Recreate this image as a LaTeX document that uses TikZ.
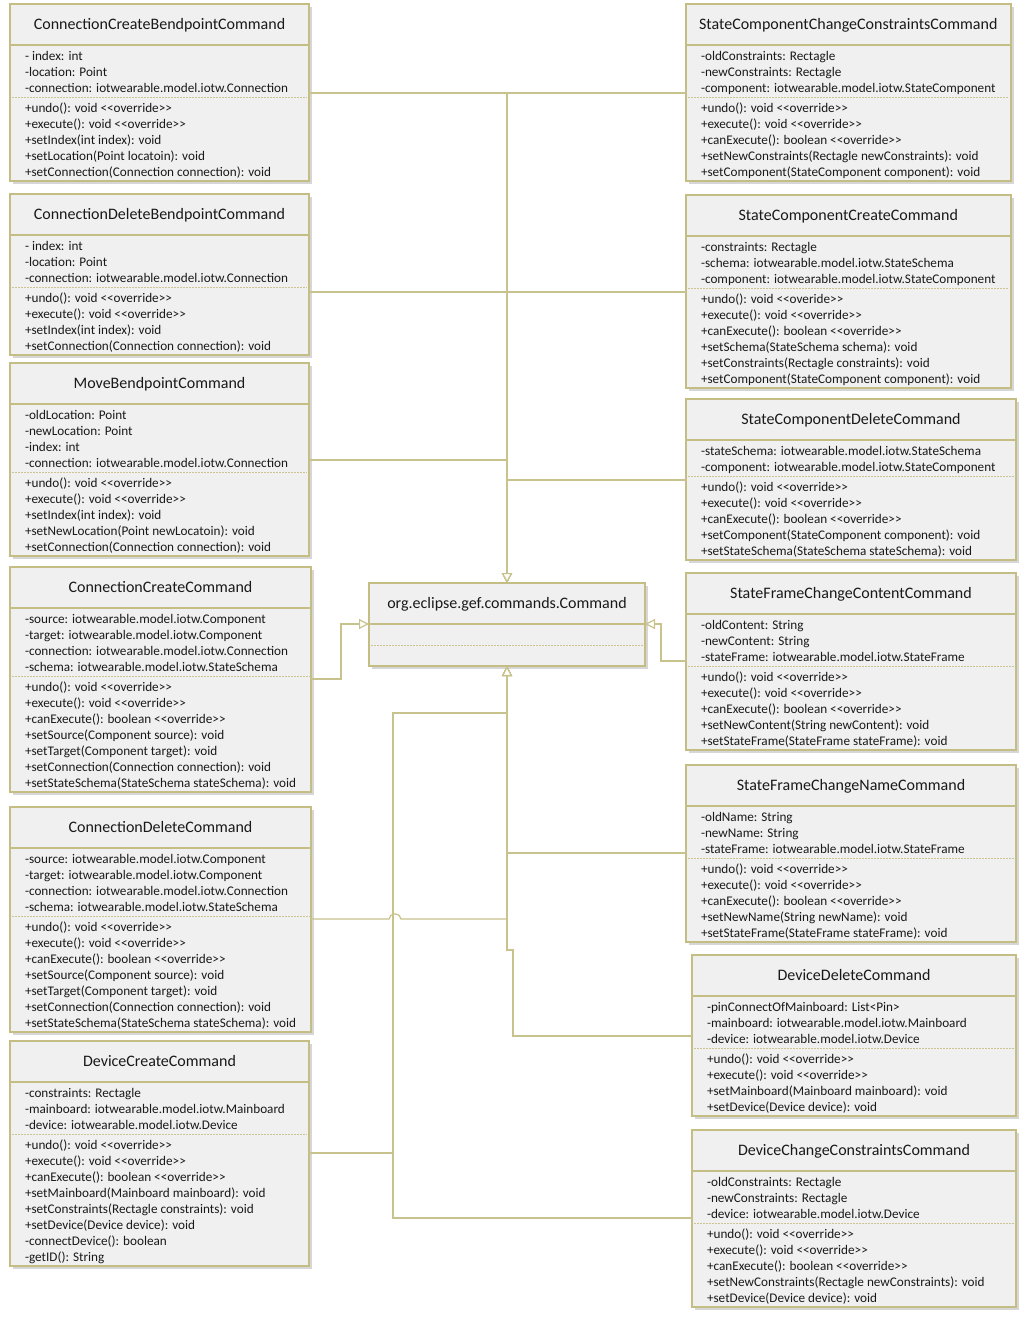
\documentclass[tikz,border=0pt]{standalone}
\usepackage{fontspec}
\setmainfont{Carlito}
\usetikzlibrary{shapes.multipart,arrows.meta,shadows,positioning}

\definecolor{umlline}{RGB}{196,190,132}
\definecolor{umlfill}{RGB}{240,240,240}
\definecolor{umldash}{RGB}{204,197,146}
\definecolor{umlarrow}{RGB}{200,195,140}
\newcommand{\lsa}{\rule{0pt}{13.5pt}}
\newcommand{\lsb}{\rule[-3.5pt]{0pt}{3.5pt}}
\newcommand{\clsname}[1]{\makebox[0pt]{\fontsize{16}{19}\selectfont\rule[-14pt]{0pt}{38pt}#1}}
\newcommand{\stereo}[1]{<\kern0pt<#1>\kern0pt>}

\begin{document}
\begin{tikzpicture}[x=1pt,y=-1pt,
  class/.style={rectangle split,rectangle split parts=3,rectangle split draw splits=false,
    rectangle split part align={center,left,left},anchor=north west,align=left,
    draw=umlline,line width=2pt,fill=umlfill,inner xsep=15pt,inner ysep=0.5pt,outer sep=0pt,
    text=black!90,font=\fontsize{13.2}{16}\selectfont,
    drop shadow={shadow xshift=3pt,shadow yshift=-3pt,fill=black!45,opacity=.35}},
  titlesep/.style={draw=umlline,line width=1.5pt},
  dashsep/.style={draw=umldash,line width=1pt,dash pattern=on 2pt off 1pt},
  gen/.style={draw=umlarrow,line width=1.2pt,-{Triangle[length=10pt,width=10pt,fill=white]}}]
  \path[fill=white,use as bounding box] (0,0) rectangle (1025,1323);

  % left column
  \node[class,minimum width=299pt] (ccb) at (10,4) {\clsname{ConnectionCreateBendpointCommand}
    \nodepart{two}\lsa- index: int\\-location: Point\\-connection: iotwearable.model.iotw.Connection\lsb
    \nodepart{three}\lsa+undo(): void \stereo{override}\\+execute(): void \stereo{override}\\+setIndex(int index): void\\+setLocation(Point locatoin): void\\+setConnection(Connection connection): void\lsb};
  \node[class,minimum width=299pt] (cdb) at (10,194) {\clsname{ConnectionDeleteBendpointCommand}
    \nodepart{two}\lsa- index: int\\-location: Point\\-connection: iotwearable.model.iotw.Connection\lsb
    \nodepart{three}\lsa+undo(): void \stereo{override}\\+execute(): void \stereo{override}\\+setIndex(int index): void\\+setConnection(Connection connection): void\lsb};
  \node[class,minimum width=299pt] (mbp) at (10,363) {\clsname{MoveBendpointCommand}
    \nodepart{two}\lsa-oldLocation: Point\\-newLocation: Point\\-index: int\\-connection: iotwearable.model.iotw.Connection\lsb
    \nodepart{three}\lsa+undo(): void \stereo{override}\\+execute(): void \stereo{override}\\+setIndex(int index): void\\+setNewLocation(Point newLocatoin): void\\+setConnection(Connection connection): void\lsb};
  \node[class,minimum width=299pt] (ccc) at (10,567) {\clsname{ConnectionCreateCommand}
    \nodepart{two}\lsa-source: iotwearable.model.iotw.Component\\-target: iotwearable.model.iotw.Component\\-connection: iotwearable.model.iotw.Connection\\-schema: iotwearable.model.iotw.StateSchema\lsb
    \nodepart{three}\lsa+undo(): void \stereo{override}\\+execute(): void \stereo{override}\\+canExecute(): boolean \stereo{override}\\+setSource(Component source): void\\+setTarget(Component target): void\\+setConnection(Connection connection): void\\+setStateSchema(StateSchema stateSchema): void\lsb};
  \node[class,minimum width=299pt] (cdc) at (10,807) {\clsname{ConnectionDeleteCommand}
    \nodepart{two}\lsa-source: iotwearable.model.iotw.Component\\-target: iotwearable.model.iotw.Component\\-connection: iotwearable.model.iotw.Connection\\-schema: iotwearable.model.iotw.StateSchema\lsb
    \nodepart{three}\lsa+undo(): void \stereo{override}\\+execute(): void \stereo{override}\\+canExecute(): boolean \stereo{override}\\+setSource(Component source): void\\+setTarget(Component target): void\\+setConnection(Connection connection): void\\+setStateSchema(StateSchema stateSchema): void\lsb};
  \node[class,minimum width=299pt] (dcc) at (10,1041) {\clsname{DeviceCreateCommand}
    \nodepart{two}\lsa-constraints: Rectagle\\-mainboard: iotwearable.model.iotw.Mainboard\\-device: iotwearable.model.iotw.Device\lsb
    \nodepart{three}\lsa+undo(): void \stereo{override}\\+execute(): void \stereo{override}\\+canExecute(): boolean \stereo{override}\\+setMainboard(Mainboard mainboard): void\\+setConstraints(Rectagle constraints): void\\+setDevice(Device device): void\\-connectDevice(): boolean\\-getID(): String\lsb};

  % right column
  \node[class,minimum width=324pt] (scc) at (686,4) {\clsname{StateComponentChangeConstraintsCommand}
    \nodepart{two}\lsa-oldConstraints: Rectagle\\-newConstraints: Rectagle\\-component: iotwearable.model.iotw.StateComponent\lsb
    \nodepart{three}\lsa+undo(): void \stereo{override}\\+execute(): void \stereo{override}\\+canExecute(): boolean \stereo{override}\\+setNewConstraints(Rectagle newConstraints): void\\+setComponent(StateComponent component): void\lsb};
  \node[class,minimum width=324pt] (scr) at (686,195) {\clsname{StateComponentCreateCommand}
    \nodepart{two}\lsa-constraints: Rectagle\\-schema: iotwearable.model.iotw.StateSchema\\-component: iotwearable.model.iotw.StateComponent\lsb
    \nodepart{three}\lsa+undo(): void \stereo{overide}\\+execute(): void \stereo{override}\\+canExecute(): boolean \stereo{override}\\+setSchema(StateSchema schema): void\\+setConstraints(Rectagle constraints): void\\+setComponent(StateComponent component): void\lsb};
  \node[class,minimum width=330pt] (scd) at (686,399) {\clsname{StateComponentDeleteCommand}
    \nodepart{two}\lsa-stateSchema: iotwearable.model.iotw.StateSchema\\-component: iotwearable.model.iotw.StateComponent\lsb
    \nodepart{three}\lsa+undo(): void \stereo{override}\\+execute(): void \stereo{override}\\+canExecute(): boolean \stereo{override}\\+setComponent(StateComponent component): void\\+setStateSchema(StateSchema stateSchema): void\lsb};
  \node[class,minimum width=330pt] (sfc) at (686,573) {\clsname{StateFrameChangeContentCommand}
    \nodepart{two}\lsa-oldContent: String\\-newContent: String\\-stateFrame: iotwearable.model.iotw.StateFrame\lsb
    \nodepart{three}\lsa+undo(): void \stereo{override}\\+execute(): void \stereo{override}\\+canExecute(): boolean \stereo{override}\\+setNewContent(String newContent): void\\+setStateFrame(StateFrame stateFrame): void\lsb};
  \node[class,minimum width=330pt] (sfn) at (686,765) {\clsname{StateFrameChangeNameCommand}
    \nodepart{two}\lsa-oldName: String\\-newName: String\\-stateFrame: iotwearable.model.iotw.StateFrame\lsb
    \nodepart{three}\lsa+undo(): void \stereo{override}\\+execute(): void \stereo{override}\\+canExecute(): boolean \stereo{override}\\+setNewName(String newName): void\\+setStateFrame(StateFrame stateFrame): void\lsb};
  \node[class,minimum width=324pt] (ddc) at (692,955) {\clsname{DeviceDeleteCommand}
    \nodepart{two}\lsa-pinConnectOfMainboard: List<Pin>\\-mainboard: iotwearable.model.iotw.Mainboard\\-device: iotwearable.model.iotw.Device\lsb
    \nodepart{three}\lsa+undo(): void \stereo{override}\\+execute(): void \stereo{override}\\+setMainboard(Mainboard mainboard): void\\+setDevice(Device device): void\lsb};
  \node[class,minimum width=324pt] (dchc) at (692,1130) {\clsname{DeviceChangeConstraintsCommand}
    \nodepart{two}\lsa-oldConstraints: Rectagle\\-newConstraints: Rectagle\\-device: iotwearable.model.iotw.Device\lsb
    \nodepart{three}\lsa+undo(): void \stereo{override}\\+execute(): void \stereo{override}\\+canExecute(): boolean \stereo{override}\\+setNewConstraints(Rectagle newConstraints): void\\+setDevice(Device device): void\lsb};

  % the super class
  \node[class,minimum width=276pt] (cmd) at (369,583) {\clsname{org.eclipse.gef.commands.Command}
    \nodepart{two}\rule[-4.5pt]{0pt}{18pt}\nodepart{three}\rule[-4.5pt]{0pt}{18pt}};

  \foreach \c in {ccb,cdb,mbp,ccc,cdc,dcc,scc,scr,scd,sfc,sfn,ddc,dchc,cmd}{
    \draw[titlesep] (\c.text split west) -- (\c.text split east);
    \draw[dashsep] ([xshift=2pt]\c.two split west) -- ([xshift=-2pt]\c.two split east);
  }

  % generalisations
  \draw[gen] ([yshift=4pt]ccb.two split east) -| (cmd.north);
  \draw[gen] ([yshift=4pt]scc.two split west) -| (cmd.north);
  \draw[gen] ([yshift=-5pt]cdb.two split east) -| (cmd.north);
  \draw[gen] ([yshift=-4pt]scr.two split west) -| (cmd.north);
  \draw[gen] ([yshift=12pt]mbp.two split east) -| (cmd.north);
  \draw[gen] ([yshift=-4pt]scd.two split west) -| (cmd.north);
  \draw[gen] ([yshift=-3pt]ccc.two split east) -- ++(30,0) |- (cmd.text split west);
  \draw[gen] ([yshift=5pt]sfc.two split west) -- ++(-25,0) |- (cmd.text split east);
  \draw[gen] ([yshift=5pt]sfn.two split west) -| (cmd.south);
  \draw[gen] ([yshift=-3pt]cdc.two split east) -- ++(78,0)
    arc[start angle=180,end angle=0,x radius=6pt,y radius=5pt] -| (cmd.south);
  \draw[gen] ([yshift=12pt]ddc.two split west) -- ++(-179,0) -- ++(0,-86) -| (cmd.south);
  \draw[gen] ([yshift=-19pt]dcc.two split east) -- ++(84,0) |- ([yshift=-47pt]cmd.south) -- (cmd.south);
  \draw[gen] ([yshift=5pt]dchc.two split west) -- ++(-299,0) |- ([yshift=-47pt]cmd.south) -- (cmd.south);
\end{tikzpicture}
\end{document}
